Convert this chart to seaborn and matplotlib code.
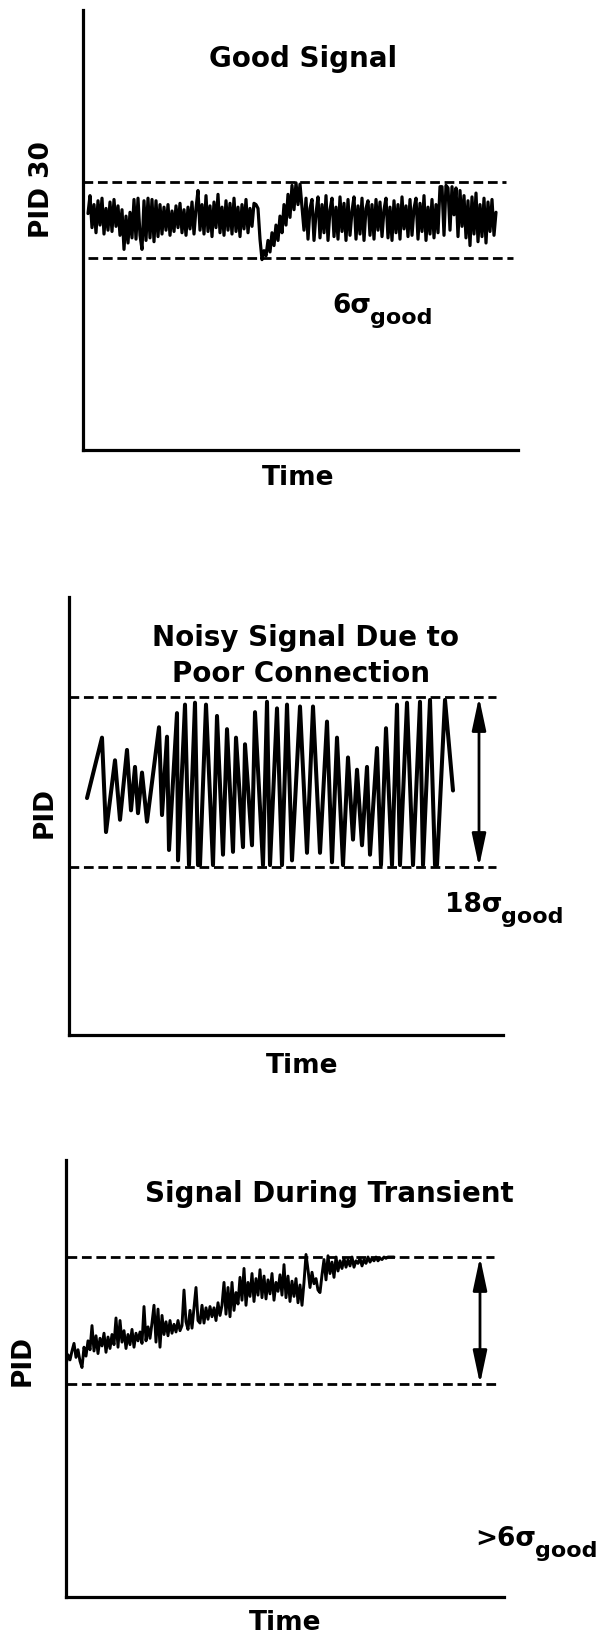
import matplotlib
matplotlib.use("Agg")
import matplotlib.pyplot as plt
import numpy as np
import pandas as pd
import seaborn as sns

# ---------------- data ----------------
titles = ["Good Signal", "Noisy Signal Due to\nPoor Connection", "Signal During Transient"]
ylabels = ["PID 30", "PID", "PID"]
xlabel = "Time"
sigma_prefixes = ["6", "18", ">6"]

# Panel 1: good signal, in units of sigma_good (sample index on x)
good_signal = [
    0.5, 1.9, -0.6, 1.2, -1.0, 1.5, -0.4, 1.7, -1.1, 0.9, -0.8, 1.4, -0.9, 1.6, -0.5, 1.1, -1.2,
    0.8, -2.3, 0.3, -1.8, 0.6, -1.4,
    1.6, -1.5, 1.7, -1.2, -2.3, 1.5, -1.6, 1.7, -1.4, 1.6, -1.7, 1.5, -1.3, 1.2,
    -1.1, 1.0, -0.8, 1.2, -1.2, 0.7, -0.9, 1.1, -0.6, 1.3, -1.0, 0.8, -1.2, 1.0, -0.7, 1.4, -1.1, 0.9, 2.3, -0.8,
    1.2, -1.1, 1.9, -0.9, 1.1, -1.3, 1.4, -0.6, 2.0, -1.0, 1.0, -1.2, 1.5, -0.8, 1.3, -1.1, 1.7, -0.9, 1.0, -1.3,
    1.2, -0.7, 1.6, -1.0, 0.9, -0.5, 1.3, 1.2,
    0.9, -1.5, -3.1, -2.4,
    -2.8, -1.6, -2.5, -1.0, -2.0, -0.4, -1.6, 0.3, -1.0, 1.2, -0.4, 2.0, 0.2, 2.7, 0.8, 2.9, 1.2, 2.8,
    1.0, -0.8, 1.7, -1.5, 0.9, 1.6, -1.6, 0.5, 1.8, -1.4, 1.2, -1.0, 1.9, -1.6, 0.8, 1.7, -1.3, 1.0, -1.5, 1.8,
    -0.9, 1.3, -1.6, 1.6, -1.2, 0.7, 1.8, -1.5, 1.1, -1.1, 1.7, -1.6, 0.9, 1.5, -1.2, 1.2, -1.5, 1.6, -0.8, 1.4,
    -1.3, 0.8, 1.7, -1.4, 1.0, -1.6, 1.5, -1.0, 1.2, -1.5, 1.8, -0.7, 1.1, -1.3, 1.6, -1.2, 0.9, 1.7, -1.5, 1.3,
    -0.9, 1.9, -1.6, 1.0, -1.1, 1.6, -1.4, 1.2, -1.0,
    2.6, 2.6, -1.2, 2.7, 2.5, -0.8, 2.6, 0.4, 2.5, -1.3, 2.3, -0.5,
    1.9, -1.4, 1.5, -2.0, 1.8, -1.1, 2.1, -1.7, 1.2, -1.3, 1.7, -1.8, 1.4, -0.9, 1.6, -1.2, 0.6,
]
good_band = [-3, 3]

# Panel 2: noisy signal (vertex times and values, sigma_good units)
noisy_time = [18, 33, 37, 46, 51, 58, 62, 66, 69, 73,
              78, 90, 93, 98, 100, 108, 109, 116, 120, 126,
              129, 131, 137, 144, 148, 154, 158, 164, 167, 174,
              176, 183, 186, 194, 198, 201, 208, 213, 218, 223,
              231, 238, 244, 251, 258, 263, 268, 274, 279, 284,
              288, 293, 298, 301, 308, 312, 317, 323, 328, 331,
              338, 344, 351, 354, 361, 366, 368, 376, 384]
noisy_signal = [-1.7, 4.7, -5.3, 2.3, -4.0, 3.4, -3.0, 1.6, -3.3, 1.0,
                -4.2, 5.8, -3.5, 4.8, -7.2, 7.3, -8.3, 8.2, -8.8, 8.4,
                -8.8, -8.8, 8.2, -8.8, 7.0, -7.7, 5.6, -7.4, 4.7, -6.9,
                4.0, -6.7, 7.4, -8.8, 8.5, -8.8, 7.8, -8.8, 8.2, -8.3,
                8.0, -7.5, 8.0, -7.5, 6.4, -8.5, 4.7, -8.8, 2.6, -6.1,
                1.3, -6.7, 1.6, -7.7, 3.6, -8.8, 5.7, -8.8, 8.2, -8.8,
                8.4, -8.8, 8.5, -8.8, 8.7, -8.8, -8.8, 8.7, -0.9]
noisy_band = [-9, 9]

# Panel 3: transient signal (sample index on x)
transient_signal = [
    1.5, 2.3, 1.9, 2.6, 3.2, 2.1, 2.7, 1.8,
    1.3, 2.9, 2.2, 3.4, 2.7, 4.6,
    2.6, 3.8, 2.4, 3.6, 3.0, 4.0, 2.5, 3.7, 2.8, 3.9,
    3.1, 5.2, 2.9, 5.0, 3.3,
    4.2, 2.8, 3.9, 3.1, 4.3, 2.9, 4.0, 3.4, 4.1, 3.2,
    6.1, 3.4, 4.5, 3.6, 4.8,
    6.2, 3.3, 5.9, 2.9, 5.4,
    3.9, 4.9, 3.8, 5.0, 4.0, 4.7, 4.1, 5.0, 4.2,
    4.6, 7.4, 4.9,
    4.3, 5.8, 4.4,
    6.0, 7.6,
    5.0, 4.8, 6.2, 4.8, 6.0,
    5.1, 6.1, 5.3, 6.0, 5.0, 6.4, 5.4, 6.2,
    8.0, 5.5, 7.6, 5.3, 8.0, 5.8, 7.2,
    6.3, 8.4, 6.6, 9.1, 6.2, 8.0, 6.9, 8.7, 6.5, 8.3, 7.0, 9.0, 6.8,
    8.5, 6.7, 8.2, 7.1, 8.7, 6.6, 8.0, 7.3, 8.6, 7.0,
    9.4, 6.8, 8.5, 6.5, 8.1, 6.9, 8.3, 6.4, 7.8,
    6.2, 8.0,
    10.2,
    9.0, 7.6, 8.8, 7.9, 8.3, 7.4,
    7.2,
    8.6, 9.8, 8.2, 10.1, 8.7, 9.6, 8.4, 10.0, 8.9, 9.7,
    9.1, 9.9, 9.2, 9.8, 9.3, 10.0, 9.2, 9.7, 9.5, 9.9, 9.3, 9.8, 9.5, 10.0, 9.6,
    9.9, 9.7, 10.0, 9.7, 9.9, 9.8, 10.0, 9.9, 10.0, 10.0,
    10.0, 10.0,
]
transient_band = [0, 10]

# ---------------- figure ----------------
sns.set_theme(style="white")
plt.rcParams["font.family"] = ["DejaVu Sans"]
plt.rcParams["font.weight"] = "bold"
plt.rcParams["text.color"] = "black"

W, H = 599, 1647
fig = plt.figure(figsize=(W / 100, H / 100), dpi=100)
fig.patch.set_facecolor("white")


def add_axes(left, top, right, bottom):
    return fig.add_axes([left / W, 1 - bottom / H, (right - left) / W, (bottom - top) / H])


def fx(x):
    return x / W


def fy(y):
    return 1 - y / H


ax1 = add_axes(83, 10, 518, 450)
ax2 = add_axes(69, 597, 503, 1035)
ax3 = add_axes(66, 1160, 504, 1597)

dash = (0, (3.5, 1.7))

# Panel 1
df1 = pd.DataFrame({"t": np.arange(len(good_signal)), "v": good_signal})
sns.lineplot(data=df1, x="t", y="v", ax=ax1, color="black", linewidth=2.3,
             estimator=None, sort=False)
ax1.set_xlim(-2.5, 215)
ax1.set_ylim(-17.97, 16.4)
ax1.hlines(good_band[1], -2.5, 209, colors="black", linestyles=[dash], linewidth=2.0)
ax1.hlines(good_band[0], 0, 212.5, colors="black", linestyles=[dash], linewidth=2.0)

# Panel 2
df2 = pd.DataFrame({"t": noisy_time, "v": noisy_signal})
sns.lineplot(data=df2, x="t", y="v", ax=ax2, color="black", linewidth=2.9,
             estimator=None, sort=False)
ax2.set_xlim(0, 434)
ax2.set_ylim(-26.8, 19.6)
ax2.hlines(noisy_band, 0, 427, colors="black", linestyles=[dash], linewidth=2.0)
ax2.annotate("", xy=(410, noisy_band[1]), xytext=(410, noisy_band[0]),
             arrowprops=dict(arrowstyle="<|-|>,head_length=0.8,head_width=0.17",
                             mutation_scale=25, color="black", lw=2.0,
                             shrinkA=0, shrinkB=0))

# Panel 3
df3 = pd.DataFrame({"t": np.arange(len(transient_signal)), "v": transient_signal})
sns.lineplot(data=df3, x="t", y="v", ax=ax3, color="black", linewidth=2.1,
             estimator=None, sort=False)
ax3.set_xlim(0, 219)
ax3.set_ylim(-16.77, 17.64)
ax3.hlines(transient_band[1], 0.5, 214, colors="black", linestyles=[dash], linewidth=2.0)
ax3.hlines(transient_band[0], 0.5, 216, colors="black", linestyles=[dash], linewidth=2.0)
ax3.annotate("", xy=(207, transient_band[1]), xytext=(207, transient_band[0]),
             arrowprops=dict(arrowstyle="<|-|>,head_length=0.8,head_width=0.17",
                             mutation_scale=25, color="black", lw=2.0,
                             shrinkA=0, shrinkB=0))

for ax in (ax1, ax2, ax3):
    ax.set_facecolor("white")
    for s in ("top", "right"):
        ax.spines[s].set_visible(False)
    for s in ("left", "bottom"):
        ax.spines[s].set_color("black")
        ax.spines[s].set_linewidth(2.3)
    ax.set_xticks([])
    ax.set_yticks([])
    ax.set_xlabel("")
    ax.set_ylabel("")

# ---------------- texts ----------------
K = "black"
TS = 20
fig.text(fx(303), fy(67), titles[0], ha="center", va="baseline", fontsize=TS, weight="bold", color=K)
line1, line2 = titles[1].split("\n")
fig.text(fx(305), fy(646), line1, ha="center", va="baseline", fontsize=TS, weight="bold", color=K)
fig.text(fx(301), fy(682), line2, ha="center", va="baseline", fontsize=TS, weight="bold", color=K)
fig.text(fx(329), fy(1202), titles[2], ha="center", va="baseline", fontsize=TS, weight="bold", color=K)

LS = 19
fig.text(fx(298), fy(485), xlabel, ha="center", va="baseline", fontsize=LS, weight="bold", color=K)
fig.text(fx(302), fy(1073), xlabel, ha="center", va="baseline", fontsize=LS, weight="bold", color=K)
fig.text(fx(285), fy(1630), xlabel, ha="center", va="baseline", fontsize=LS, weight="bold", color=K)

fig.text(fx(42), fy(190), ylabels[0], rotation=90, ha="center", va="center", fontsize=LS, weight="bold", color=K)
fig.text(fx(45), fy(812), ylabels[1], rotation=90, ha="center", va="center", fontsize=LS, weight="bold", color=K)
fig.text(fx(23), fy(1361), ylabels[2], rotation=90, ha="center", va="center", fontsize=LS, weight="bold", color=K)

renderer = fig.canvas.get_renderer()


def sigma_label(x, yb, prefix):
    t = fig.text(fx(x), fy(yb), prefix + "\u03c3", ha="left", va="baseline",
                 fontsize=19, weight="bold", color=K)
    bb = t.get_window_extent(renderer)
    fig.text((bb.x1 - 1) / W, fy(yb + 11), "good", ha="left", va="baseline",
             fontsize=16, weight="bold", color=K)


sigma_label(332, 313, sigma_prefixes[0])
sigma_label(445, 912, sigma_prefixes[1])
sigma_label(475, 1546, sigma_prefixes[2])

fig.savefig("out.png", dpi=100, facecolor="white")
